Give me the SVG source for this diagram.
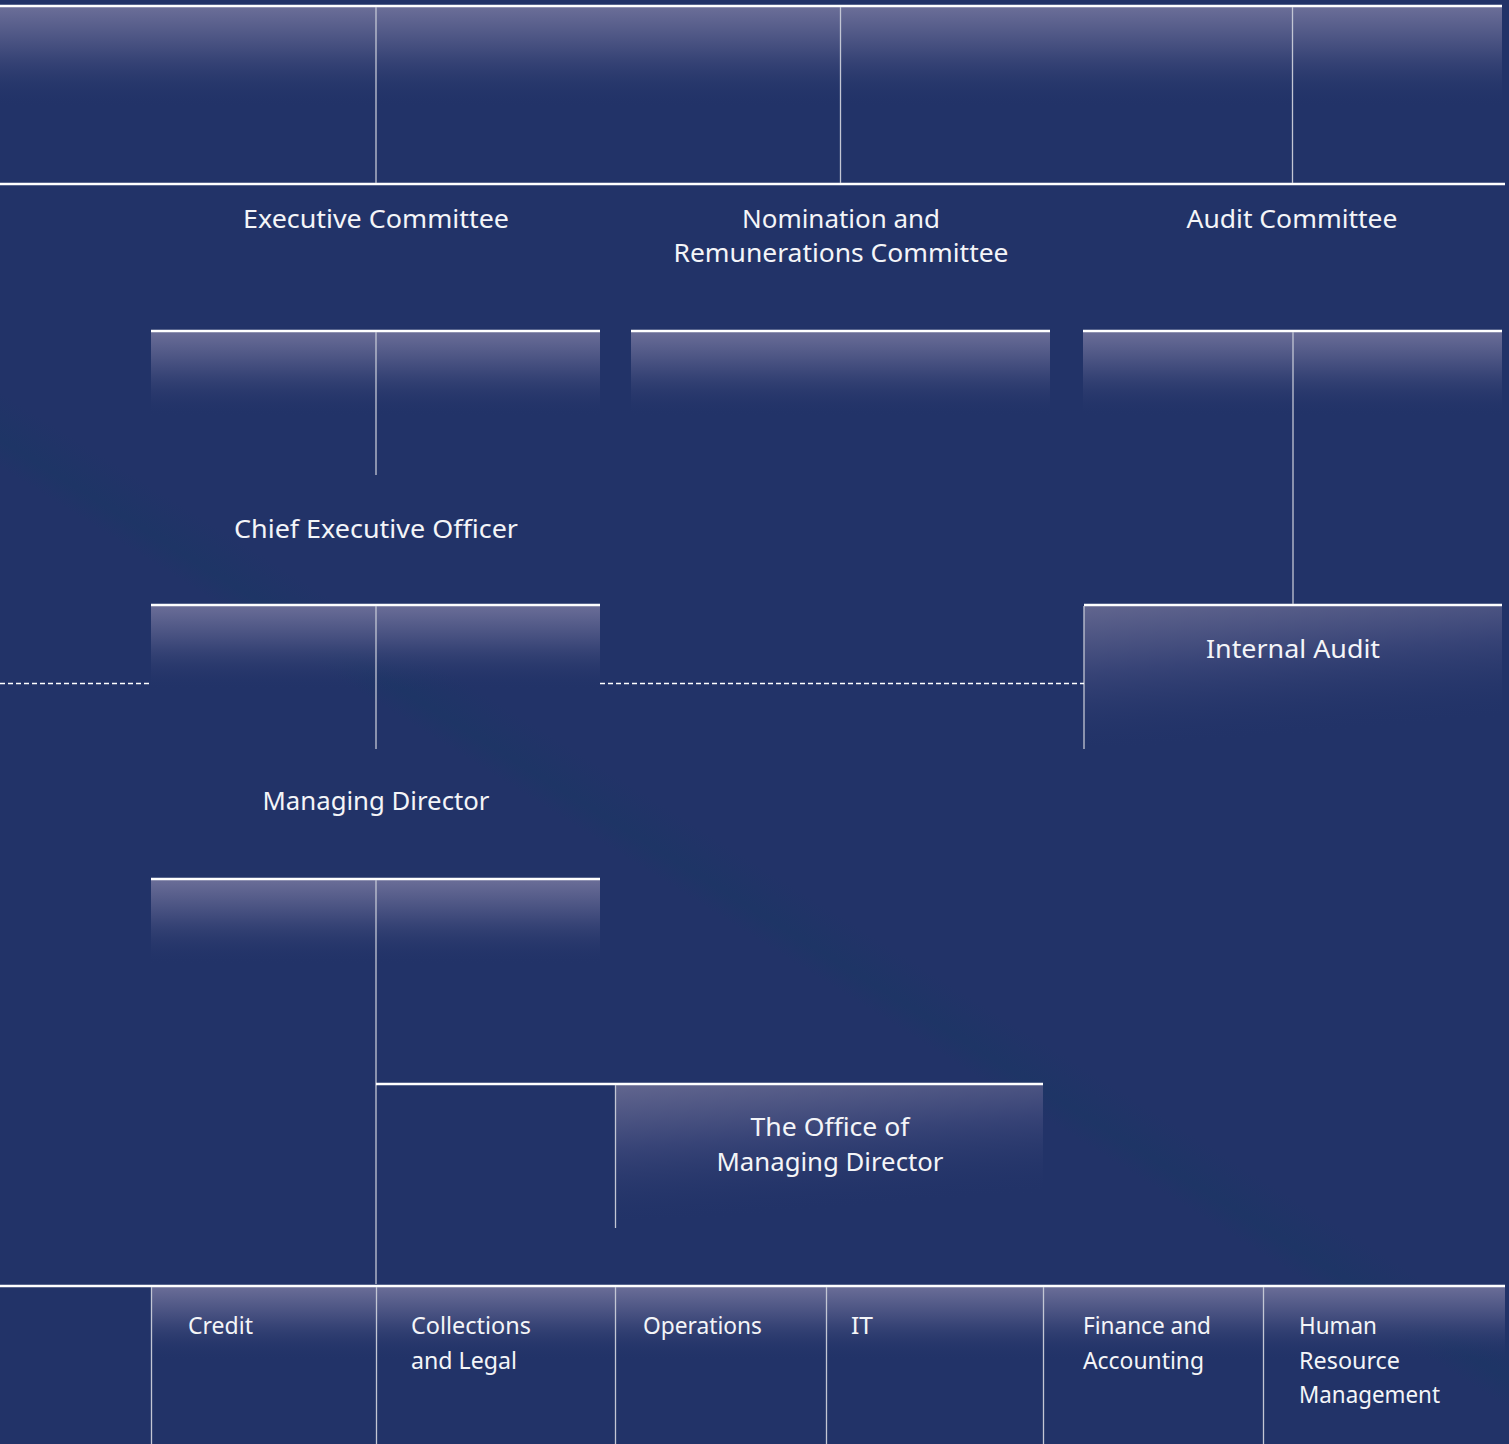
<svg xmlns="http://www.w3.org/2000/svg" width="1509" height="1444" viewBox="0 0 1509 1444">
<defs>
<linearGradient id="band" gradientUnits="userSpaceOnUse" x1="728" y1="775" x2="622" y2="945">
<stop offset="0" stop-color="#223368"/>
<stop offset="0.3" stop-color="#223368"/>
<stop offset="0.5" stop-color="#1e3566"/>
<stop offset="0.62" stop-color="#223368"/>
<stop offset="1" stop-color="#223368"/>
</linearGradient>
<linearGradient id="fadeV" x1="0" y1="0" x2="0" y2="1">
<stop offset="0" stop-color="#6b6e98"/>
<stop offset="0.45" stop-color="#3f4a7b"/>
<stop offset="1" stop-color="#223368" stop-opacity="0"/>
</linearGradient>
<linearGradient id="fadeD" x1="0" y1="0" x2="0.25" y2="1">
<stop offset="0" stop-color="#62668f"/>
<stop offset="0.45" stop-color="#384477"/>
<stop offset="1" stop-color="#223368" stop-opacity="0"/>
</linearGradient>
<style>
.t{font-family:"Noto Sans","Open Sans","DejaVu Sans",sans-serif;fill:#f4f5f8;}
.big{font-size:26px;text-anchor:middle;}
.sm{font-size:24px;}
.hl{stroke:#ffffff;stroke-width:2.5;fill:none;}
.vl{stroke:#c3c6d4;stroke-width:1.3;fill:none;}
.dl{stroke:#ffffff;stroke-width:1.5;stroke-dasharray:5 3;fill:none;}
</style>
</defs>
<rect x="0" y="0" width="1509" height="1444" fill="#223368"/>
<rect x="0" y="0" width="1509" height="1444" fill="url(#band)"/>

<g id="board">
<rect x="0" y="7" width="1502" height="100" fill="url(#fadeV)"/>
</g>
<g id="executive-committee">
<text class="t big" x="376" y="228" textLength="266" lengthAdjust="spacingAndGlyphs">Executive Committee</text>
</g>
<g id="nomination-committee">
<text class="t big" x="841" y="228" textLength="198" lengthAdjust="spacingAndGlyphs">Nomination and</text>
<text class="t big" x="841" y="262" textLength="335" lengthAdjust="spacingAndGlyphs">Remunerations Committee</text>
</g>
<g id="audit-committee">
<text class="t big" x="1292" y="228" textLength="211" lengthAdjust="spacingAndGlyphs">Audit Committee</text>
</g>

<g id="ceo">
<rect x="151" y="331" width="449" height="85" fill="url(#fadeV)"/>
<line class="hl" x1="151" y1="331" x2="600" y2="331"/>
<text class="t big" x="376" y="538" textLength="284" lengthAdjust="spacingAndGlyphs">Chief Executive Officer</text>
</g>
<g id="nomination-box">
<rect x="631" y="331" width="419" height="85" fill="url(#fadeV)"/>
<line class="hl" x1="631" y1="331" x2="1050" y2="331"/>
</g>
<g id="audit-box">
<rect x="1083" y="331" width="419" height="85" fill="url(#fadeV)"/>
<line class="hl" x1="1083" y1="331" x2="1502" y2="331"/>
</g>

<g id="managing-director">
<rect x="151" y="605" width="449" height="85" fill="url(#fadeV)"/>
<line class="hl" x1="151" y1="605" x2="600" y2="605"/>
<text class="t big" x="376" y="810" textLength="227" lengthAdjust="spacingAndGlyphs">Managing Director</text>
</g>
<g id="internal-audit">
<rect x="1084" y="605" width="418" height="140" fill="url(#fadeD)"/>
<line class="hl" x1="1084" y1="605" x2="1502" y2="605"/>
<text class="t big" x="1293" y="658" textLength="174" lengthAdjust="spacingAndGlyphs">Internal Audit</text>
</g>

<g id="md-box">
<rect x="151" y="879" width="449" height="85" fill="url(#fadeV)"/>
<line class="hl" x1="151" y1="879" x2="600" y2="879"/>
</g>
<g id="office-md">
<rect x="615" y="1084" width="428" height="135" fill="url(#fadeD)"/>
<text class="t big" x="830" y="1136" textLength="159" lengthAdjust="spacingAndGlyphs">The Office of</text>
<text class="t big" x="830" y="1171" textLength="227" lengthAdjust="spacingAndGlyphs">Managing Director</text>
</g>

<g id="departments">
<rect x="151" y="1286" width="1354" height="75" fill="url(#fadeV)"/>
</g>
<g id="credit"><text class="t sm" x="188" y="1334" textLength="65" lengthAdjust="spacingAndGlyphs">Credit</text></g>
<g id="collections">
<text class="t sm" x="411" y="1334" textLength="120" lengthAdjust="spacingAndGlyphs">Collections</text>
<text class="t sm" x="411" y="1369" textLength="106" lengthAdjust="spacingAndGlyphs">and Legal</text>
</g>
<g id="operations"><text class="t sm" x="643" y="1334" textLength="119" lengthAdjust="spacingAndGlyphs">Operations</text></g>
<g id="it"><text class="t sm" x="851" y="1334" textLength="22" lengthAdjust="spacingAndGlyphs">IT</text></g>
<g id="finance">
<text class="t sm" x="1083" y="1334" textLength="128" lengthAdjust="spacingAndGlyphs">Finance and</text>
<text class="t sm" x="1083" y="1369" textLength="121" lengthAdjust="spacingAndGlyphs">Accounting</text>
</g>
<g id="hr">
<text class="t sm" x="1299" y="1334" textLength="78" lengthAdjust="spacingAndGlyphs">Human</text>
<text class="t sm" x="1299" y="1369" textLength="101" lengthAdjust="spacingAndGlyphs">Resource</text>
<text class="t sm" x="1299" y="1403" textLength="141" lengthAdjust="spacingAndGlyphs">Management</text>
</g>

<g id="connectors">
<line class="hl" x1="0" y1="6" x2="1502" y2="6"/>
<line class="hl" x1="0" y1="184" x2="1505" y2="184"/>
<line class="vl" x1="376" y1="7" x2="376" y2="183"/>
<line class="vl" x1="840.5" y1="7" x2="840.5" y2="183"/>
<line class="vl" x1="1292.5" y1="7" x2="1292.5" y2="183"/>
<line class="vl" x1="376" y1="332" x2="376" y2="475"/>
<line class="vl" x1="1293" y1="332" x2="1293" y2="604"/>
<line class="vl" x1="376" y1="606" x2="376" y2="749"/>
<line class="vl" x1="1084" y1="606" x2="1084" y2="749"/>
<line class="dl" x1="0" y1="683.5" x2="151" y2="683.5"/>
<line class="dl" x1="600" y1="683.5" x2="1084" y2="683.5"/>
<line class="vl" x1="376" y1="880" x2="376" y2="1284"/>
<line class="hl" x1="376" y1="1084" x2="1043" y2="1084"/>
<line class="vl" x1="615.5" y1="1085" x2="615.5" y2="1228"/>
<line class="hl" x1="0" y1="1286" x2="1505" y2="1286"/>
<line class="vl" x1="151.5" y1="1287" x2="151.5" y2="1444"/>
<line class="vl" x1="376.5" y1="1287" x2="376.5" y2="1444"/>
<line class="vl" x1="615.5" y1="1287" x2="615.5" y2="1444"/>
<line class="vl" x1="826.5" y1="1287" x2="826.5" y2="1444"/>
<line class="vl" x1="1043.5" y1="1287" x2="1043.5" y2="1444"/>
<line class="vl" x1="1263.5" y1="1287" x2="1263.5" y2="1444"/>
</g>
</svg>
